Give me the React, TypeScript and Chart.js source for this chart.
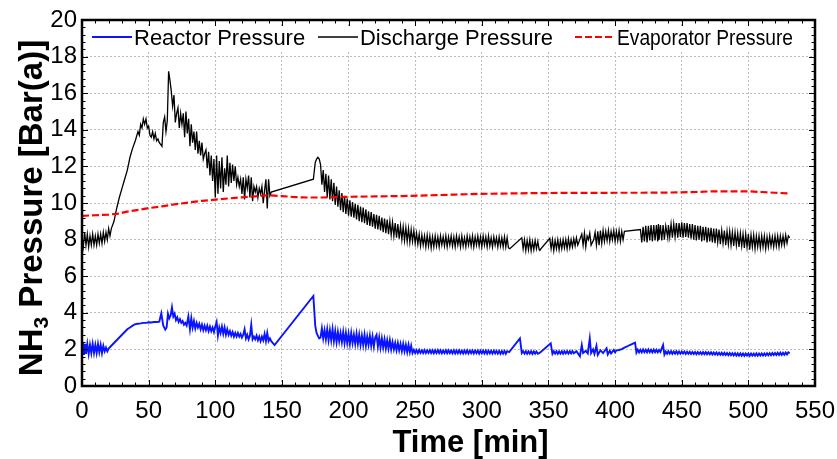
import React, { useEffect, useRef } from "react";
import { Chart, registerables } from "chart.js";

Chart.register(...registerables);

// ---- Data (time [min], pressure [bar(a)]) ----
const seriesLabels = ["Reactor Pressure", "Discharge Pressure", "Evaporator Pressure"];
const xAxisTitle = "Time [min]";
const yAxisTitleParts = ["NH", "3", " Pressure [Bar(a)]"];
const xRange = [0, 550];
const yRange = [0, 20];
const xStep = 50;
const yStep = 2;

const reactorPressure: [number, number][] = [
  [0, 1.8], [0.7, 2.35], [1.5, 1.7], [2.3, 2.3], [3, 1.75], [4, 2.3], [5, 1.75], [6, 2.25], [7, 1.8], [8, 2.3],
  [9, 1.8], [10, 2.25], [11, 1.8], [12, 2.3], [13, 1.85], [14, 2.25], [15, 1.8], [16, 2.2], [17, 1.9], [18, 2.1],
  [19, 1.9], [20, 2.05], [22, 2.2], [24, 2.35], [26, 2.5], [28, 2.65], [30, 2.8], [32, 2.95], [34, 3.1], [36, 3.2],
  [38, 3.3], [40, 3.38], [42, 3.4], [44, 3.42], [46, 3.45], [48, 3.45], [50, 3.48], [52, 3.47], [54, 3.5], [56, 3.5],
  [58, 3.52], [59.5, 3.97], [61, 3.3], [62.5, 3.08], [63.5, 3.2], [64.5, 3.95], [65.5, 3.7], [66.5, 3.85], [67.5, 4.3],
  [68.5, 3.8], [69.5, 3.95], [70.5, 3.6], [71.5, 3.75], [72.5, 3.5], [73.5, 3.65], [74.5, 3.45], [75.5, 3.55],
  [76.5, 3.35], [77.5, 3.45], [78.5, 3.3], [79.8, 3.8], [81, 3.1], [82, 3.7], [83, 3.2], [84, 3.55], [85, 3.15],
  [86, 3.45], [87, 3.2], [88, 3.4], [89, 3.1], [90, 3.35], [91, 3.05], [92, 3.3], [93, 3.05], [94, 3.3], [95, 3.0],
  [96, 3.25], [97, 3.0], [98, 3.2], [99, 2.95], [100, 3.25], [101, 3.5], [102, 2.75], [103, 3.2], [104, 2.9],
  [105, 3.25], [106, 2.85], [107, 3.2], [108, 2.8], [109, 3.1], [110, 2.8], [111, 3.0], [112, 2.75], [113, 2.95],
  [114, 2.7], [115, 2.9], [116, 2.7], [117, 2.9], [118, 2.7], [119, 2.85], [120, 2.65], [121, 2.8], [122, 3.1],
  [123, 2.6], [124, 2.8], [125, 2.55], [126, 2.75], [127, 3.35], [128, 2.55], [129, 2.7], [130, 2.55], [131, 2.75],
  [132, 2.5], [133, 2.7], [134, 2.45], [135, 2.7], [136, 2.5], [137, 2.85], [138, 2.45], [139, 2.9], [140, 2.45],
  [141, 2.6], [142, 2.45], [144.5, 2.24], [173.6, 4.92], [175, 3.3], [176, 2.9], [177.3, 2.7], [178, 2.6], [179, 2.65],
  [180, 3.15], [181, 2.6], [182, 3.05], [183, 2.55], [184, 3.1], [185, 2.5], [186, 3.05], [187, 2.5], [188, 3.1],
  [189, 2.45], [190, 3.0], [191, 2.4], [192, 2.95], [193, 2.45], [194, 2.9], [195, 2.4], [196, 2.95], [197, 2.35],
  [198, 2.9], [199, 2.35], [200, 2.85], [201, 2.3], [202, 2.9], [203, 2.35], [204, 2.8], [205, 2.3], [206, 2.85],
  [207, 2.3], [208, 2.8], [209, 2.25], [210, 2.75], [211, 2.25], [212, 2.8], [213, 2.2], [214, 2.7], [215, 2.25],
  [216, 2.75], [217, 2.2], [218, 2.7], [219, 2.15], [220, 2.65], [221, 2.8], [222, 2.15], [223, 2.65], [224, 2.1],
  [225, 2.6], [226, 2.1], [227, 2.55], [228, 2.05], [229, 2.5], [230, 2.05], [231, 2.5], [232, 2.0], [233, 2.4],
  [234, 2.0], [235, 2.35], [236, 1.95], [237, 2.35], [238, 1.95], [239, 2.3], [240, 1.9], [241, 2.3], [242, 1.9],
  [243, 2.25], [244, 1.85], [245, 2.25], [246, 1.85], [247, 2.2], [248, 1.8],
  [249, 1.97], [250, 1.8], [251, 1.96], [252, 1.8], [253, 1.97], [254, 1.81], [255, 1.95], [256, 1.8], [257, 1.96],
  [258, 1.8], [259, 1.95], [260, 1.81], [261, 1.96], [262, 1.8], [263, 1.95], [264, 1.79], [265, 1.95], [266, 1.8],
  [267, 1.96], [268, 1.8], [269, 1.95], [270, 1.79], [271, 1.94], [272, 1.8], [273, 1.95], [274, 1.79], [275, 1.95],
  [276, 1.8], [277, 1.94], [278, 1.79], [279, 1.95], [280, 1.78], [281, 1.94], [282, 1.79], [283, 1.95], [284, 1.79],
  [285, 1.93], [286, 1.78], [287, 1.94], [288, 1.79], [289, 1.95], [290, 1.78], [291, 1.93], [292, 1.79], [293, 1.94],
  [294, 1.78], [295, 1.93], [296, 1.79], [297, 1.94], [298, 1.77], [299, 1.93], [300, 1.78], [301, 1.93], [302, 1.78],
  [303, 1.94], [304, 1.77], [305, 1.93], [306, 1.78], [307, 1.92], [308, 1.77], [309, 1.93], [310, 1.78], [311, 1.92],
  [312, 1.77], [313, 1.92], [314, 1.76], [315, 1.91], [316, 1.77], [317, 1.92], [318, 1.76], [319, 1.9],
  [320.5, 1.85], [328.6, 2.6], [330, 1.8], [331, 1.9], [332, 1.77], [333, 1.9], [334, 1.76], [335, 1.89], [336, 1.77],
  [337, 1.9], [338, 1.75], [339, 1.89], [340, 1.77], [341, 1.88], [342, 1.76], [343.6, 1.82], [351.7, 2.33],
  [353, 1.76], [354, 1.9], [355, 1.77], [356, 1.9], [357, 1.76], [358, 1.89], [359, 1.77], [360, 1.9], [361, 1.76],
  [362, 1.9], [363, 1.78], [364, 1.9], [365, 1.77], [366, 1.9], [367, 1.78], [368, 1.91], [369, 1.79], [371, 1.9],
  [373.6, 1.62], [375, 2.24], [376, 1.8], [378, 1.92], [379.5, 1.78], [381, 2.6], [382, 1.8], [383.5, 2.0],
  [384.5, 1.75], [386, 2.19], [387, 1.7], [389, 1.95], [391, 1.8], [393.6, 2.06], [394.5, 1.72], [396, 1.92],
  [397, 1.78], [399, 1.97], [400, 1.84], [401, 1.95], [403, 1.97], [405, 2.02], [407, 2.1], [409, 2.16], [411, 2.24],
  [413, 2.3], [415, 2.37], [416, 1.82], [417, 1.98], [418, 1.84], [419, 1.98], [420, 1.84], [421, 2.0], [422, 1.85],
  [423, 1.98], [424, 1.84], [425, 2.0], [426, 1.85], [427, 1.98], [428, 1.84], [429, 1.99], [430, 1.85], [431, 1.98],
  [432, 1.84], [433, 1.97], [434, 1.86], [436, 2.24], [437, 1.72], [438, 1.88], [439, 1.76], [440, 1.9], [441, 1.77],
  [442, 1.9], [443, 1.76], [444, 1.88], [445, 1.77], [446, 1.9], [447, 1.76], [448, 1.88], [449, 1.76], [450, 1.88],
  [451, 1.77], [452, 1.88], [453, 1.75], [454, 1.87], [455, 1.76], [456, 1.87], [457, 1.75], [458, 1.86], [459, 1.75],
  [460, 1.86], [461, 1.74], [462, 1.86], [463, 1.75], [464, 1.85], [465, 1.74], [466, 1.86], [467, 1.74], [468, 1.85],
  [469, 1.73], [470, 1.84], [471, 1.73], [472, 1.84], [473, 1.72], [474, 1.83], [475, 1.72], [476, 1.83], [477, 1.71],
  [478, 1.82], [479, 1.71], [480, 1.82], [481, 1.7], [482, 1.81], [483, 1.69], [484, 1.8], [485, 1.68], [486, 1.8],
  [487, 1.68], [488, 1.79], [489, 1.67], [490, 1.79], [491, 1.66], [492, 1.78], [493, 1.66], [494, 1.78], [495, 1.66],
  [496, 1.77], [497, 1.65], [498, 1.77], [499, 1.66], [500, 1.77], [501, 1.65], [502, 1.77], [503, 1.66], [504, 1.77],
  [505, 1.66], [506, 1.78], [507, 1.66], [508, 1.78], [509, 1.67], [510, 1.78], [511, 1.67], [512, 1.78], [513, 1.67],
  [514, 1.79], [515, 1.68], [516, 1.79], [517, 1.68], [518, 1.8], [519, 1.69], [520, 1.8], [521, 1.69], [522, 1.81],
  [523, 1.7], [524, 1.82], [525, 1.7], [526, 1.82], [527, 1.71], [528, 1.83], [529, 1.72], [530, 1.84], [531, 1.8],
];

const dischargePressure: [number, number][] = [
  [0, 8.1], [1, 7.6], [2, 8.4], [3, 7.7], [4, 8.3], [5, 7.6], [6, 8.2], [7, 7.7], [8, 8.3], [9, 7.7], [10, 8.2],
  [11, 7.7], [12, 8.3], [13, 7.8], [14, 8.3], [15, 7.8], [16, 8.4], [17, 7.9], [18, 8.4], [19, 8.0], [20, 8.6],
  [21, 8.2], [22, 8.6], [24, 9.0], [26, 9.7], [28, 10.3], [30, 10.8], [32, 11.3], [34, 11.8], [36, 12.5], [38, 13.0],
  [40, 13.4], [42, 13.9], [43, 13.7], [44, 14.3], [45, 14.1], [46, 14.6], [47, 14.3], [48, 14.6], [49, 14.1],
  [50, 14.2], [51, 13.7], [52, 13.6], [53, 13.9], [54, 13.5], [55, 13.8], [56, 13.4], [57, 13.5], [58, 13.3],
  [59, 13.2], [60, 13.1], [61, 14.4], [62, 14.7], [63, 13.9], [64, 14.5], [65, 17.2], [66, 16.7], [67, 16.1],
  [68, 15.3], [69, 15.9], [70, 14.4], [71, 14.9], [72, 15.2], [73, 14.1], [74, 14.9], [75, 14.3], [76, 14.9],
  [77, 13.6], [78, 15.0], [79, 13.8], [80, 14.6], [81, 13.1], [82, 14.3], [83, 13.3], [84, 13.9], [85, 12.9],
  [86, 13.9], [87, 12.7], [88, 13.4], [89, 12.6], [90, 13.3], [91, 12.4], [92, 12.7], [93, 12.9], [94, 11.9],
  [95, 12.8], [96, 11.5], [97, 12.6], [98, 11.2], [99, 12.4], [100, 10.3], [101, 12.6], [102, 10.5], [103, 12.3],
  [104, 10.8], [105, 12.5], [106, 10.6], [107, 11.9], [108, 11.0], [109, 12.6], [110, 10.9], [111, 12.2], [112, 11.1],
  [113, 12.1], [114, 11.2], [115, 12.0], [116, 11.0], [117, 11.4], [118, 10.9], [119, 11.3], [120, 10.5], [121, 11.4],
  [122, 10.2], [123, 11.3], [124, 10.8], [125, 11.5], [126, 10.3], [127, 11.4], [128, 10.1], [129, 10.9], [130, 10.6],
  [131, 10.9], [132, 10.3], [133, 10.8], [134, 10.5], [135, 10.9], [136, 10.0], [137, 10.7], [138, 11.3], [139, 9.7],
  [140, 11.3], [141, 10.4], [142, 10.6], [173.6, 11.3], [175, 12.2], [176, 12.4], [177, 12.5], [178, 12.4],
  [179, 12.1], [180, 11.0], [181, 11.8], [182, 10.6], [183, 11.6], [184, 10.3],
  [185, 11.5], [186, 10.2], [187, 11.3], [188, 10.1], [189, 11.1], [190, 9.9], [191, 10.9], [192, 9.8], [193, 10.7],
  [194, 9.6], [195, 10.55], [196, 9.5], [197, 10.4], [198, 9.4], [199, 10.25], [200, 9.3], [201, 10.15], [202, 9.25],
  [203, 10.05], [204, 9.2], [205, 9.95], [206, 9.1], [207, 9.9], [208, 9.0], [209, 9.8], [210, 8.95], [211, 9.75],
  [212, 8.9], [213, 9.65], [214, 8.8], [215, 9.55], [216, 8.75], [217, 9.5], [218, 8.7], [219, 9.4], [220, 8.6],
  [221, 9.35], [222, 8.55], [223, 9.3], [224, 8.5], [225, 9.2], [226, 8.4], [227, 9.15], [228, 8.35], [229, 9.1],
  [230, 8.3], [231, 9.0], [232, 8.25], [233, 8.95], [234, 8.2], [235, 8.9], [236, 8.1], [237, 8.85], [238, 8.05],
  [239, 8.75], [240, 8.0], [241, 8.7], [242, 7.95], [243, 8.65], [244, 7.9], [245, 8.6], [246, 7.85], [247, 8.55],
  [248, 7.9], [249, 8.5], [250, 7.8],
  [251, 8.35], [252, 7.75], [253, 8.3], [254, 7.65], [255, 8.25], [256, 7.7], [257, 8.2], [258, 7.6], [259, 8.25],
  [260, 7.65], [261, 8.2], [262, 7.55], [263, 8.15], [264, 7.6], [265, 8.2], [266, 7.65], [267, 8.15], [268, 7.6],
  [269, 8.2], [270, 7.7], [271, 8.15], [272, 7.65], [273, 8.2], [274, 7.6], [275, 8.15], [276, 7.7], [277, 8.2],
  [278, 7.65], [279, 8.15], [280, 7.6], [281, 8.2], [282, 7.7], [283, 8.15], [284, 7.6], [285, 8.2], [286, 7.65],
  [287, 8.1], [288, 7.6], [289, 8.2], [290, 7.7], [291, 8.15], [292, 7.65], [293, 8.2], [294, 7.6], [295, 8.15],
  [296, 7.7], [297, 8.2], [298, 7.65], [299, 8.15], [300, 7.6], [301, 8.2], [302, 7.7], [303, 8.15], [304, 7.6],
  [305, 8.2], [306, 7.65], [307, 8.1], [308, 7.6], [309, 8.15], [310, 7.7], [311, 8.1], [312, 7.6], [313, 8.15],
  [314, 7.65], [315, 8.1], [316, 7.6], [317, 8.15], [318, 7.6], [319, 8.1], [320, 7.55], [321, 7.5],
  [330, 8.1], [331, 7.5], [332, 8.0], [333, 7.4], [334, 7.95], [335, 7.45], [336, 8.0], [337, 7.4], [338, 7.9],
  [339, 7.45], [340, 7.95], [341, 7.5], [342, 7.9], [343, 7.45], [343.6, 7.43], [351, 8.07],
  [352, 7.5], [353, 8.0], [354, 7.4], [355, 7.95], [356, 7.5], [357, 8.0], [358, 7.45], [359, 7.95], [360, 7.5],
  [361, 8.0], [362, 7.55], [363, 8.0], [364, 7.5], [365, 8.05], [366, 7.55], [367, 8.0], [368, 7.6], [369, 8.05],
  [370, 7.65], [371, 8.1], [372, 7.7], [373, 7.9], [375, 8.3], [376, 7.7], [377, 8.35], [378, 7.6], [379, 8.2],
  [380, 8.0], [381, 8.35], [382, 7.7], [384, 8.0], [385, 8.4], [386, 7.7], [387, 8.45], [388, 7.7], [389, 8.5],
  [390, 7.8], [391, 8.5], [392, 7.9], [393, 8.45], [394, 7.95], [395, 8.5], [396, 7.9], [397, 8.45], [398, 8.0],
  [399, 8.5], [400, 7.9], [401, 8.45], [402, 7.95], [403, 8.5], [404, 7.9], [405, 8.45], [406, 8.0], [407, 8.45],
  [419, 8.55], [420, 7.85], [421, 8.7], [422, 7.9], [423, 8.75], [424, 7.85], [425, 8.75], [426, 7.95], [427, 8.8],
  [428, 7.9], [429, 8.8], [430, 7.95], [431, 8.8], [432, 7.9], [432.5, 8.85], [433, 8.0], [434, 8.8], [435, 7.95],
  [436, 8.8], [437, 8.0], [438, 8.75], [439.5, 8.1], [440, 8.8], [441, 8.15], [442, 8.85], [443, 8.1], [444, 8.85],
  [445, 8.15], [446, 8.9], [447, 8.1], [448, 8.9], [449, 8.15], [450, 8.95], [451, 8.1], [452, 8.9], [453, 8.15],
  [454, 8.9], [455, 8.1], [456, 8.85], [457, 8.05], [458, 8.85],
  [459, 8.0], [460, 8.8], [461, 7.95], [462, 8.75], [463, 8.0], [464, 8.75], [465, 7.9], [466, 8.7], [467, 7.95],
  [468, 8.7], [469, 7.85], [470, 8.65], [471, 7.9], [472, 8.65], [473, 7.85], [474, 8.6], [475, 7.8], [476, 8.6],
  [477, 7.85], [478, 8.55], [479, 7.75], [480, 8.5], [481, 7.8], [482, 8.5], [483, 7.7], [484, 8.45], [485, 7.75],
  [486, 8.45], [487, 7.7], [488, 8.4], [489, 7.65], [490, 8.4], [491, 7.7], [492, 8.35], [493, 7.6], [494, 8.35],
  [495, 7.65], [496, 8.3], [497, 7.55], [498, 8.3], [499, 7.6], [500, 8.3], [501, 7.45], [502, 8.25], [503, 7.6],
  [504, 8.25], [505, 7.5], [506, 8.2], [507, 7.6], [508, 8.2], [509, 7.55], [510, 8.2], [511, 7.6], [512, 8.2],
  [513, 7.5], [514, 8.15], [515, 7.6], [516, 8.2], [517, 7.65], [518, 8.15], [519, 7.6], [520, 8.2], [521, 7.65],
  [522, 8.2], [523, 7.6], [524, 8.2], [525, 7.7], [526, 8.2], [527, 7.7], [528, 8.25], [529, 7.8], [530, 8.2],
  [531, 8.1],
];

const evaporatorPressure: [number, number][] = [
  [0, 9.3], [10, 9.33], [20, 9.37], [28, 9.42], [32, 9.5], [40, 9.6], [50, 9.72], [60, 9.82], [70, 9.93],
  [80, 10.03], [90, 10.12], [100, 10.18], [110, 10.25], [120, 10.31], [130, 10.36], [140, 10.42], [150, 10.38],
  [160, 10.32], [170, 10.3], [180, 10.3], [190, 10.32], [200, 10.34], [220, 10.36], [240, 10.38], [260, 10.42],
  [280, 10.46], [300, 10.5], [320, 10.52], [340, 10.54], [360, 10.55], [380, 10.55], [400, 10.56], [420, 10.56],
  [440, 10.57], [460, 10.6], [470, 10.63], [480, 10.64], [500, 10.64], [510, 10.6], [520, 10.56], [531, 10.52],
];

const FONT = '"Liberation Sans", Arial, Helvetica, sans-serif';

// legend item layout (line start x, text width) in px
const legendLayout = [
  { x: 92, w: 174 },
  { x: 318, w: 193 },
  { x: 575, w: 176 },
];

const framePlugin = {
  id: "frameAndMinorTicks",
  afterDatasetsDraw(chart: any) {
    const { ctx, chartArea } = chart;
    const { top } = chartArea;
    ctx.save();
    chart.data.datasets.forEach((ds: any, i: number) => {
      const lay = legendLayout[i];
      ctx.fillStyle = "#ffffff";
      ctx.fillRect(lay.x - 3, top + 6, 40 + 2 + lay.w + 6, 26);
      ctx.beginPath();
      ctx.strokeStyle = ds.borderColor;
      ctx.lineWidth = ds.borderWidth;
      ctx.setLineDash(ds.borderDash || []);
      ctx.moveTo(lay.x, top + 17);
      ctx.lineTo(lay.x + 40, top + 17);
      ctx.stroke();
      ctx.setLineDash([]);
      ctx.fillStyle = "#000";
      ctx.font = `22px ${FONT}`;
      ctx.textAlign = "left";
      ctx.textBaseline = "alphabetic";
      ctx.fillText(ds.label, lay.x + 42, top + 25, lay.w);
    });
    ctx.restore();
  },
  afterDraw(chart: any) {
    const { ctx, chartArea, scales } = chart;
    const { left, top, right, bottom } = chartArea;
    const x = scales.x;
    const y = scales.y;
    ctx.save();
    ctx.strokeStyle = "#000";
    ctx.lineWidth = 1;
    ctx.beginPath();
    for (let t = xRange[0]; t <= xRange[1]; t += 10) {
      const px = Math.round(x.getPixelForValue(t)) + 0.5;
      const len = t % xStep === 0 ? 6 : 3.5;
      ctx.moveTo(px, bottom);
      ctx.lineTo(px, bottom - len);
      ctx.moveTo(px, top);
      ctx.lineTo(px, top + len);
    }
    for (let i = 0; i <= 50; i++) {
      const v = i * 0.4;
      const py = Math.round(y.getPixelForValue(v)) + 0.5;
      const len = i % 5 === 0 ? 6 : 3.5;
      ctx.moveTo(left, py);
      ctx.lineTo(left + len, py);
      ctx.moveTo(right, py);
      ctx.lineTo(right - len, py);
    }
    ctx.stroke();
    ctx.lineWidth = 2.5;
    ctx.strokeRect(left, top, right - left, bottom - top);

    // axis titles
    ctx.fillStyle = "#000";
    ctx.textBaseline = "alphabetic";
    ctx.font = `bold 31px ${FONT}`;
    ctx.textAlign = "center";
    ctx.fillText(xAxisTitle, 470.5, 452);

    const big = `bold 33px ${FONT}`;
    const small = `bold 21px ${FONT}`;
    ctx.font = big;
    const w1 = ctx.measureText(yAxisTitleParts[0]).width;
    const w3 = ctx.measureText(yAxisTitleParts[2]).width;
    ctx.font = small;
    const w2 = ctx.measureText(yAxisTitleParts[1]).width;
    const total = w1 + w2 + w3;
    ctx.translate(42, 208);
    ctx.rotate(-Math.PI / 2);
    ctx.textAlign = "left";
    let cx = -total / 2;
    ctx.font = big;
    ctx.fillText(yAxisTitleParts[0], cx, 0);
    cx += w1;
    ctx.font = small;
    ctx.fillText(yAxisTitleParts[1], cx, 6);
    cx += w2;
    ctx.font = big;
    ctx.fillText(yAxisTitleParts[2], cx, 0);
    ctx.restore();
  },
};

export default function App() {
  const canvasRef = useRef<HTMLCanvasElement | null>(null);

  useEffect(() => {
    if (!canvasRef.current) return;
    const toXY = (arr: [number, number][]) => arr.map(([t, v]) => ({ x: t, y: v }));
    const chart = new Chart(canvasRef.current, {
      type: "line",
      data: {
        datasets: [
          {
            label: seriesLabels[0],
            data: toXY(reactorPressure),
            borderColor: "#0a14ff",
            borderWidth: 1.9,
            pointRadius: 0,
            tension: 0,
            order: 2,
          },
          {
            label: seriesLabels[1],
            data: toXY(dischargePressure),
            borderColor: "#000000",
            borderWidth: 1.3,
            pointRadius: 0,
            tension: 0,
            order: 1,
          },
          {
            label: seriesLabels[2],
            data: toXY(evaporatorPressure),
            borderColor: "#ff0000",
            borderWidth: 2.2,
            borderDash: [7, 3],
            pointRadius: 0,
            tension: 0,
            order: 0,
          },
        ],
      },
      options: {
        responsive: false,
        animation: false,
        devicePixelRatio: 1,
        parsing: false,
        normalized: true,
        layout: { padding: { top: 20, right: 22, left: 0, bottom: 0 } },
        plugins: {
          legend: { display: false },
          tooltip: { enabled: false },
          title: { display: false },
        },
        scales: {
          x: {
            type: "linear",
            min: xRange[0],
            max: xRange[1],
            ticks: {
              stepSize: xStep,
              color: "#000",
              font: { family: FONT, size: 24 },
              padding: 11,
              maxRotation: 0,
              autoSkip: false,
            },
            grid: { color: "#bdbdbd", lineWidth: 1, drawTicks: false },
            border: { display: false, dash: [2, 2] },
            afterFit: (s: any) => {
              s.height = 73;
              s.paddingLeft = 0;
              s.paddingRight = 0;
            },
          },
          y: {
            type: "linear",
            min: yRange[0],
            max: yRange[1],
            ticks: {
              stepSize: yStep,
              color: "#000",
              font: { family: FONT, size: 24 },
              padding: 5,
            },
            grid: { color: "#bdbdbd", lineWidth: 1, drawTicks: false },
            border: { display: false, dash: [2, 2] },
            afterFit: (s: any) => {
              s.width = 82;
              s.paddingTop = 0;
              s.paddingBottom = 0;
            },
          },
        },
      },
      plugins: [framePlugin],
    } as any);
    return () => chart.destroy();
  }, []);

  return (
    <div style={{ position: "absolute", left: 0, top: 0, width: 837, height: 459, background: "#fff" }}>
      <canvas ref={canvasRef} width={837} height={459} style={{ width: 837, height: 459, display: "block" }} />
    </div>
  );
}
